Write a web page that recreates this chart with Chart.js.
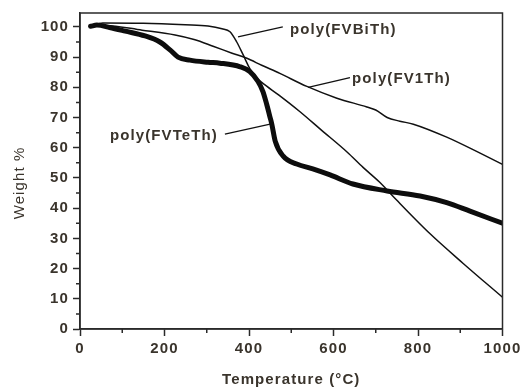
<!DOCTYPE html>
<html><head><meta charset="utf-8">
<script src="https://cdn.jsdelivr.net/npm/chart.js@4/dist/chart.umd.min.js"></script>
<style>html,body{margin:0;padding:0;background:#fff}#wrap{width:524px;height:387px;position:relative}</style>
</head><body><div id="wrap"><canvas id="c"></canvas></div>
<script>
// ---- data ----
const tempTe   = [25, 40, 70, 107, 154, 189, 213, 232, 260, 303, 331, 379, 402, 421, 433, 442, 450, 454, 462, 481, 513, 551, 592, 646, 727, 805, 868, 923, 1000];
const weightTe = [100.2, 100.6, 99.8, 98.6, 97, 95, 92.4, 90, 89, 88.3, 88, 86.8, 85.2, 82, 78.6, 74.3, 70, 67.8, 62.2, 57.2, 54.6, 53, 51, 48, 45.7, 44, 41.8, 39, 35];

const temp1Th   = [25, 59, 147, 225, 270, 315, 360, 395, 430, 473, 537, 608, 679, 700, 727, 757, 789, 868, 947, 1000];
const weight1Th = [100.2, 100.5, 98.9, 97.3, 95.8, 93.6, 91.3, 89.6, 87.3, 84.6, 80.3, 76.4, 73.5, 72.5, 70, 68.8, 67.8, 63.5, 58.2, 54.5];

const tempBi   = [25, 54, 150, 249, 303, 336, 355, 371, 386, 402, 419, 433, 470, 520, 570, 632, 670, 710, 729, 750, 828, 907, 1000];
const weightBi = [100.2, 101.3, 101.2, 100.7, 100.3, 99.4, 98.4, 95, 90.8, 86.2, 83, 81.3, 77.5, 72, 66, 58.6, 53.5, 48.5, 45.7, 42.6, 31.6, 21.7, 10.5];

const seriesNames = ['poly(FVTeTh)', 'poly(FV1Th)', 'poly(FVBiTh)'];
const xMinor = [100, 300, 500, 700, 900];
const yMinor = [5, 15, 25, 35, 45, 55, 65, 75, 85, 95];
const xTitle = 'Temperature (°C)';
const yTitle = 'Weight %';

// annotation anchors in data units: text position, leader start, leader end
const noteText = ['poly(FVBiTh)', 'poly(FV1Th)', 'poly(FVTeTh)'];
const noteAt   = [[497, 99], [644, 82.9], [71, 63.8]];
const noteFrom = [[480, 100], [639, 83.2], [343, 64.5]];
const noteTo   = [[374, 96.7], [540, 80], [450, 67.8]];

const pts = (xs, ys) => xs.map((x, i) => ({x, y: ys[i]}));
const FONT = 'Liberation Sans, Arial, Helvetica, sans-serif';
const TXT = '#3a342c';
const AX = '#2a2a2a';
const SP = '1.1px';

Chart.defaults.font.family = FONT;
Chart.defaults.font.size = 15;
Chart.defaults.font.weight = 'bold';
Chart.defaults.color = TXT;

const extras = {
  id: 'extras',
  beforeDraw(chart) {
    const c = chart.ctx;
    c.save(); c.fillStyle = '#fff'; c.fillRect(0, 0, chart.width, chart.height); c.restore();
    c.letterSpacing = SP;
  },
  afterDraw(chart) {
    const c = chart.ctx, a = chart.chartArea, xs = chart.scales.x, ys = chart.scales.y;
    c.save();
    c.strokeStyle = AX; c.lineWidth = 1.5;
    c.strokeRect(a.left, a.top, a.right - a.left, a.bottom - a.top);
    c.beginPath();
    xMinor.forEach(v => { const p = xs.getPixelForValue(v); c.moveTo(p, a.bottom); c.lineTo(p, a.bottom + 4); });
    yMinor.forEach(v => { const p = ys.getPixelForValue(v); c.moveTo(a.left, p); c.lineTo(a.left - 4, p); });
    c.stroke();
    // annotations
    c.strokeStyle = '#111'; c.lineWidth = 1.3;
    c.fillStyle = TXT; c.font = 'bold 15px ' + FONT; c.letterSpacing = SP;
    c.textBaseline = 'middle';
    noteText.forEach((t, i) => {
      c.beginPath();
      c.moveTo(xs.getPixelForValue(noteFrom[i][0]), ys.getPixelForValue(noteFrom[i][1]));
      c.lineTo(xs.getPixelForValue(noteTo[i][0]), ys.getPixelForValue(noteTo[i][1]));
      c.stroke();
      c.textAlign = 'left';
      c.fillText(t, xs.getPixelForValue(noteAt[i][0]), ys.getPixelForValue(noteAt[i][1]));
    });
    // y title
    c.font = '15px ' + FONT;
    c.translate(20, (a.top + a.bottom) / 2 + 12);
    c.rotate(-Math.PI / 2);
    c.textAlign = 'center';
    c.fillText(yTitle, 0, 0);
    c.restore();
  }
};

new Chart(document.getElementById('c'), {
  type: 'line',
  data: {
    datasets: [
      {label: seriesNames[0], data: pts(tempTe, weightTe), borderColor: '#0d0d0d', borderWidth: 5},
      {label: seriesNames[1], data: pts(temp1Th, weight1Th), borderColor: '#111', borderWidth: 1.5},
      {label: seriesNames[2], data: pts(tempBi, weightBi), borderColor: '#111', borderWidth: 1.5}
    ]
  },
  options: {
    responsive: true, maintainAspectRatio: false, animation: false,
    layout: {padding: {left: 0, right: 21.5, top: 11, bottom: 0}},
    elements: {point: {radius: 0}, line: {cubicInterpolationMode: 'monotone', borderCapStyle: 'round', borderJoinStyle: 'round'}},
    plugins: {legend: {display: false}, tooltip: {enabled: false}},
    scales: {
      x: {
        type: 'linear', min: 0, max: 1000,
        ticks: {stepSize: 200, padding: 4, color: TXT, font: {size: 15, weight: 'bold'}, maxRotation: 0, callback: v => String(v)},
        grid: {drawOnChartArea: false, tickLength: 7, tickColor: AX, tickWidth: 1.5},
        border: {display: true, color: AX, width: 1.5},
        title: {display: true, text: xTitle, font: {size: 15, weight: 'bold', lineHeight: 1}, padding: {top: 0, bottom: 0}, color: TXT},
        afterFit(s) { s.height = 58; }
      },
      y: {
        type: 'linear', min: 0, max: 104.6,
        ticks: {stepSize: 10, includeBounds: false, padding: 4, color: TXT, font: {size: 15, weight: 'bold'}, callback: v => String(v)},
        grid: {drawOnChartArea: false, tickLength: 7, tickColor: AX, tickWidth: 1.5},
        border: {display: true, color: AX, width: 1.5},
        afterFit(s) { s.width = 80; }
      }
    }
  },
  plugins: [extras]
});
</script></body></html>
